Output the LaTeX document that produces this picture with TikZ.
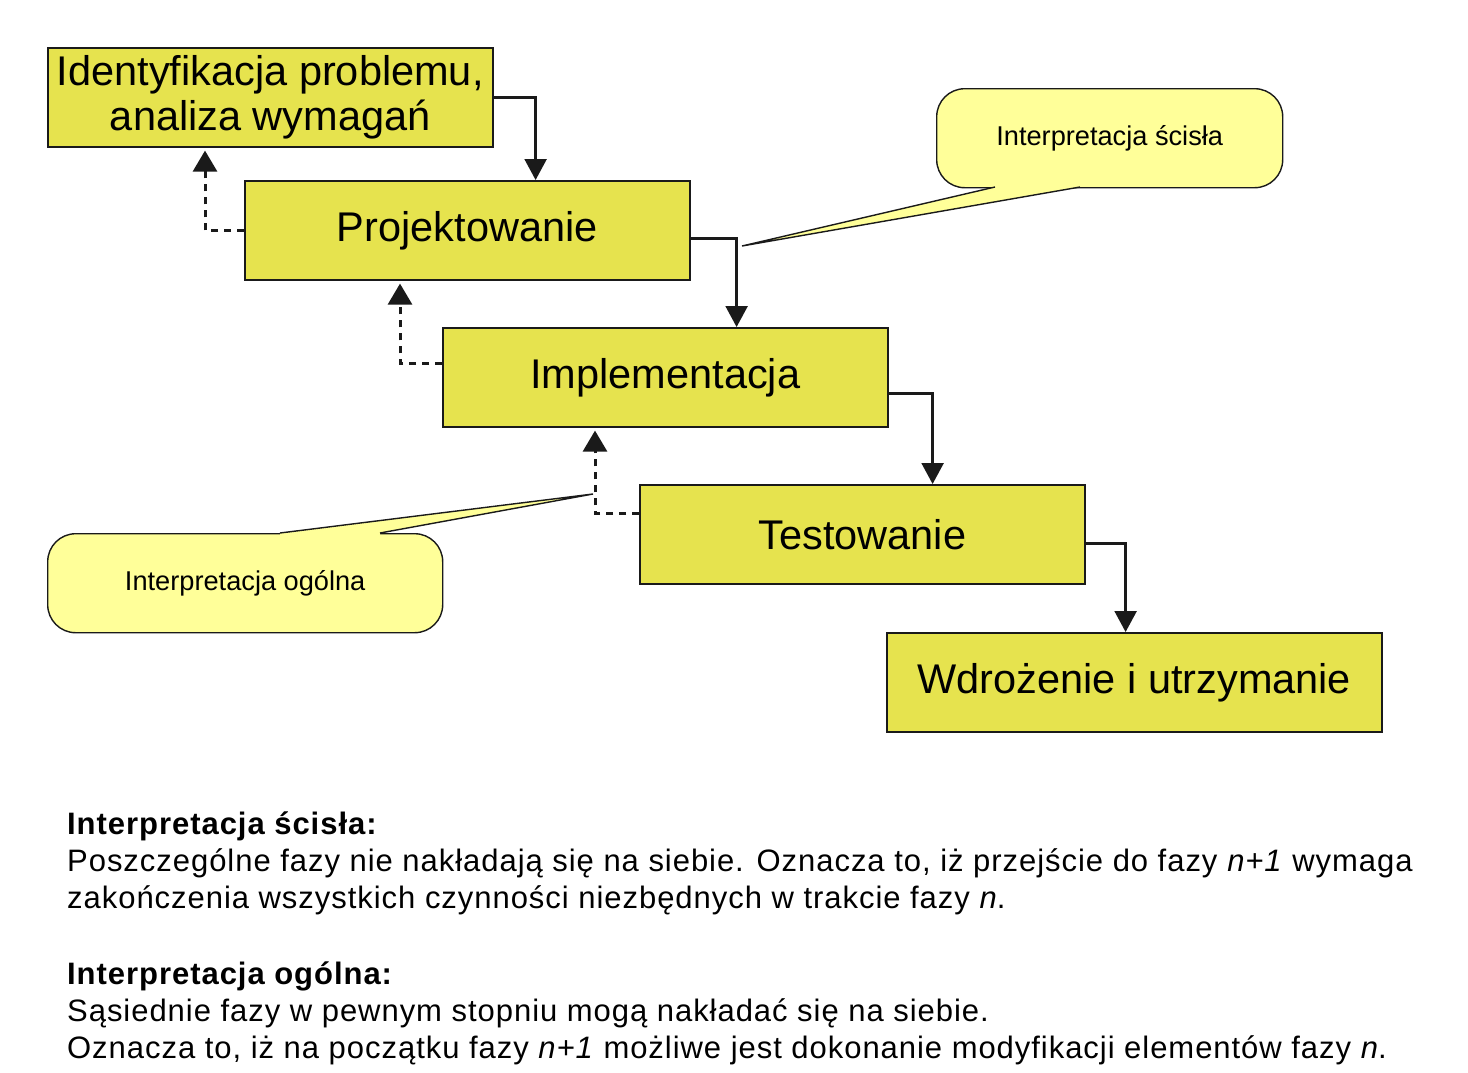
\documentclass[tikz,border=0pt]{standalone}
\usepackage{fontspec}
\setmainfont{Liberation Sans}
\newfontfamily\descfont[LetterSpace=3.1]{Liberation Sans}
\usetikzlibrary{arrows.meta, positioning, calc}

\begin{document}
\begin{tikzpicture}[x=1pt, y=-1pt]

\definecolor{phaseyellow}{HTML}{E6E34E}
\definecolor{noteyellow}{HTML}{FFFF99}
\definecolor{edgegray}{HTML}{1A1A1A}

\tikzset{
  phasebox/.style={draw=edgegray, fill=phaseyellow, line width=1.6pt, minimum width=445pt, minimum height=99pt,
    anchor=north west, inner sep=0pt, align=center, font=\fontsize{41.5}{45}\selectfont},
  callout/.style={draw=edgegray, fill=noteyellow, line width=1.4pt, rounded corners=28pt, minimum height=99pt,
    anchor=north west, inner sep=0pt, font=\fontsize{27.2}{30}\selectfont},
  flow/.style={-{Triangle[width=22pt,length=21pt]}, line width=2.4pt, edgegray},
  feedback/.style={-{Triangle[width=24pt,length=21pt]}, line width=3pt, dash pattern=on 7pt off 6pt, edgegray, shorten >=3pt},
  desc/.style={anchor=north west, align=left, inner sep=0pt, font=\descfont\fontsize{31}{37}\selectfont}
}

\useasboundingbox (0,0) rectangle (1468,1072);

%phases
\node[phasebox] (ident) at (47,47) {Identyfikacja problemu,\\analiza wymagań};
\node[phasebox] (proj) at (244,180) {Projektowanie};
\node[phasebox] (impl) at (442,327) {Implementacja};
\node[phasebox] (test) at (639,484) {Testowanie};
\node[phasebox, minimum width=495pt] (wdro) at (886,632) {Wdrożenie i utrzymanie};

%forward flow
\draw[flow] (ident.east) -| ([xshift=42pt]ident.east |- proj.north);
\draw[flow] ([yshift=-8pt]proj.east) -| ([xshift=46pt]proj.east |- impl.north);
\draw[flow] ([yshift=-16pt]impl.east) -| ([xshift=44pt]impl.east |- test.north);
\draw[flow] ([yshift=-9pt]test.east) -| ([xshift=40pt]test.east |- wdro.north);

%feedback
\draw[feedback] (proj.west) -| ([xshift=-39pt]proj.west |- ident.south);
\draw[feedback] ([yshift=14pt]impl.west) -| ([xshift=-42pt]impl.west |- proj.south);
\draw[feedback] ([yshift=21pt]test.west) -| ([xshift=-44pt]test.west |- impl.south);

%callouts
\node[callout, minimum width=346pt] (scisla) at (936,88) {Interpretacja ścisła};
\coordinate (scislaA) at (995,187);
\coordinate (scislaB) at (1080,187);
\coordinate (scislaTip) at (742,246);
\fill[noteyellow] ($(scislaA)+(0,-3)$) -- (scislaA) -- (scislaTip) -- (scislaB) -- ($(scislaB)+(0,-3)$) -- cycle;
\draw[edgegray, line width=1.4pt, line join=miter] (scislaA) -- (scislaTip) -- (scislaB);

\node[callout, minimum width=395pt] (ogolna) at (47,533) {Interpretacja ogólna};
\coordinate (ogolnaA) at (280,533);
\coordinate (ogolnaB) at (380,533);
\coordinate (ogolnaTip) at (593,494);
\fill[noteyellow] ($(ogolnaA)+(0,3)$) -- (ogolnaA) -- (ogolnaTip) -- (ogolnaB) -- ($(ogolnaB)+(0,3)$) -- cycle;
\draw[edgegray, line width=1.4pt, line join=miter] (ogolnaA) -- (ogolnaTip) -- (ogolnaB);

%description
\node[desc] (descscisla) at (67,812) {\textbf{Interpretacja ścisła:}\\
  Poszczególne fazy nie nakładają się na siebie. Oznacza to, iż przejście do fazy \textit{n+1} wymaga\\
  zakończenia wszystkich czynności niezbędnych w trakcie fazy \textit{n}.};
\node[desc] (descogolna) at (67,962) {\textbf{Interpretacja ogólna:}\\
  Sąsiednie fazy w pewnym stopniu mogą nakładać się na siebie.\\
  Oznacza to, iż na początku fazy \textit{n+1} możliwe jest dokonanie modyfikacji elementów fazy \textit{n}.};
\end{tikzpicture}
\end{document}
